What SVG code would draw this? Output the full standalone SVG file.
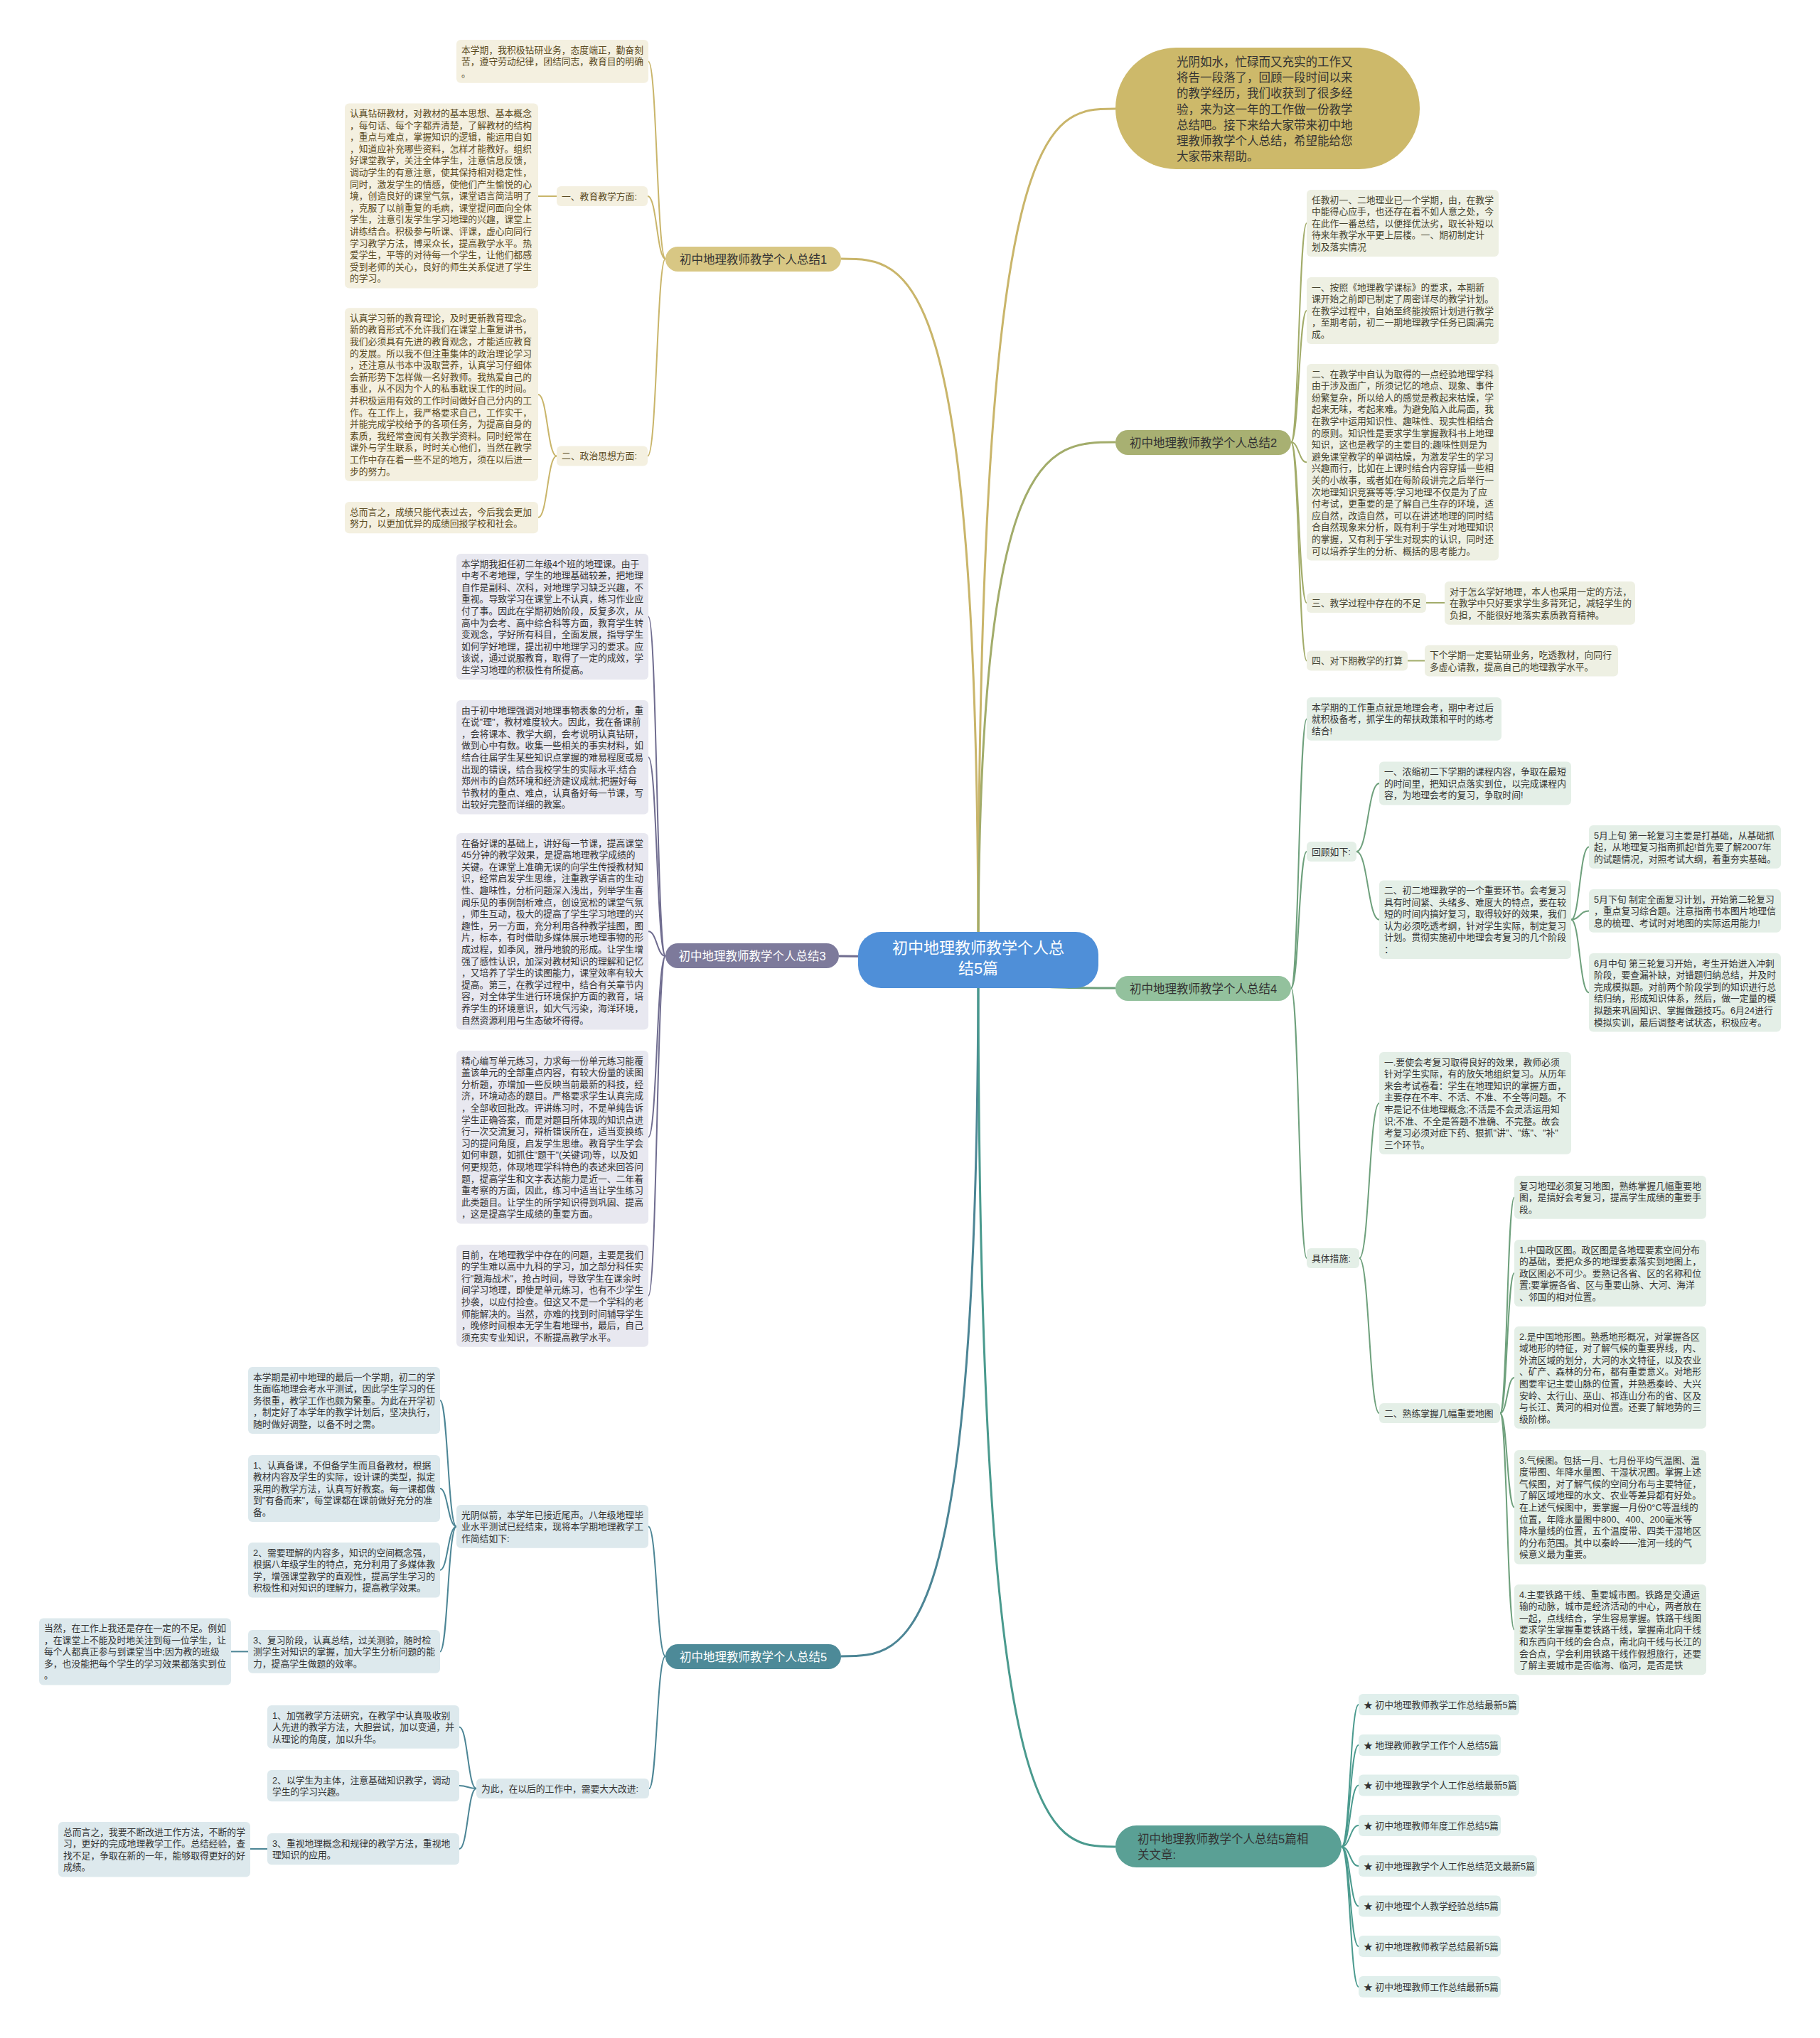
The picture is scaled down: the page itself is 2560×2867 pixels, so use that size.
<svg xmlns="http://www.w3.org/2000/svg" width="2560" height="2867" viewBox="0 0 2560 2867">
<style>
text{font-family:"Liberation Sans","Noto Sans CJK SC",sans-serif;}
.t{font-size:12.8px;fill:#333;}
.t1{fill:#5a4a22;}
.t2{fill:#45432f;}
.lbl{font-size:16.5px;fill:#333;text-anchor:middle;}
.lblw{font-size:16.5px;fill:#fff;text-anchor:middle;}
.c1{fill:#f4f0e0;}
.c2{fill:#eef0e3;}
.c3{fill:#e8e8f0;}
.c4{fill:#e4efe7;}
.c5{fill:#dde9ed;}
.c6{fill:#e0efec;}
.ln{fill:none;stroke-width:2;}
.mn{fill:none;stroke-width:3;}
.g1{stroke:#c9b56a;}
.g2{stroke:#a2ac6a;}
.g3{stroke:#6f6c8f;}
.g4{stroke:#6ea07c;}
.g5{stroke:#4c8595;}
.g6{stroke:#4a9a8e;}
</style>
<rect width="2560" height="2867" fill="#fff"/>
<g id="connectors">
<path class="mn g1" d="M1376 1350 C1376 153 1472 153 1569 153"/>
<path class="mn g1" d="M1376 1350 C1376 364 1280 364 1183 364"/>
<path class="mn g2" d="M1376 1350 C1376 622 1472 622 1569 622"/>
<path class="mn g3" d="M1376 1350 C1280 1350 1280 1345 1180 1345"/>
<path class="mn g4" d="M1376 1350 C1376 1390 1472 1390 1569 1390"/>
<path class="mn g5" d="M1376 1350 C1376 2330 1280 2330 1183 2330"/>
<path class="mn g6" d="M1376 1350 C1376 2598 1472 2598 1569 2598"/>
<path class="ln g1" d="M936 364 C924 364 924 86.4 912 86.4"/>
<path class="ln g1" d="M936 364 C924 364 924 276 911 276"/>
<path class="ln g1" d="M936 364 C924 364 924 641.5 911 641.5"/>
<path class="ln g1" d="M783 276 L757 276"/>
<path class="ln g1" d="M783 641.5 C770 641.5 770 555 757 555"/>
<path class="ln g1" d="M783 641.5 C770 641.5 770 728.1 757 728.1"/>
<path class="ln g2" d="M1816 622 C1827 622 1827 314 1838 314"/>
<path class="ln g2" d="M1816 622 C1827 622 1827 437 1838 437"/>
<path class="ln g2" d="M1816 622 C1827 622 1827 650.3 1838 650.3"/>
<path class="ln g2" d="M1816 622 C1827 622 1827 848 1838 848"/>
<path class="ln g2" d="M1816 622 C1827 622 1827 929.5 1838 929.5"/>
<path class="ln g2" d="M2006 848 L2032 848"/>
<path class="ln g2" d="M1980 929.5 L2004 929.5"/>
<path class="ln g3" d="M936 1345 C924 1345 924 867.5 912 867.5"/>
<path class="ln g3" d="M936 1345 C924 1345 924 1065.2 912 1065.2"/>
<path class="ln g3" d="M936 1345 C924 1345 924 1310.3 912 1310.3"/>
<path class="ln g3" d="M936 1345 C924 1345 924 1599.7 912 1599.7"/>
<path class="ln g3" d="M936 1345 C924 1345 924 1822.9 912 1822.9"/>
<path class="ln g4" d="M1816 1390 C1827 1390 1827 1011.4 1838 1011.4"/>
<path class="ln g4" d="M1816 1390 C1827 1390 1827 1198 1838 1198"/>
<path class="ln g4" d="M1816 1390 C1827 1390 1827 1770 1838 1770"/>
<path class="ln g4" d="M1908 1198 C1924 1198 1924 1102 1940 1102"/>
<path class="ln g4" d="M1908 1198 C1924 1198 1924 1293.8 1940 1293.8"/>
<path class="ln g4" d="M2210 1293.8 C2222 1293.8 2222 1191.4 2235 1191.4"/>
<path class="ln g4" d="M2210 1293.8 C2222 1293.8 2222 1281.4 2235 1281.4"/>
<path class="ln g4" d="M2210 1293.8 C2222 1293.8 2222 1396.3 2235 1396.3"/>
<path class="ln g4" d="M1912 1770 C1926 1770 1926 1551.9 1940 1551.9"/>
<path class="ln g4" d="M1912 1770 C1926 1770 1926 1988 1940 1988"/>
<path class="ln g4" d="M2110 1988 C2120 1988 2120 1684.4 2130 1684.4"/>
<path class="ln g4" d="M2110 1988 C2120 1988 2120 1791 2130 1791"/>
<path class="ln g4" d="M2110 1988 C2120 1988 2120 1937.9 2130 1937.9"/>
<path class="ln g4" d="M2110 1988 C2120 1988 2120 2120.2 2130 2120.2"/>
<path class="ln g4" d="M2110 1988 C2120 1988 2120 2292.6 2130 2292.6"/>
<path class="ln g5" d="M936 2330 C924 2330 924 2147.4 912 2147.4"/>
<path class="ln g5" d="M936 2330 C924 2330 924 2516 913 2516"/>
<path class="ln g5" d="M642 2147.4 C630 2147.4 630 1970 619 1970"/>
<path class="ln g5" d="M642 2147.4 C630 2147.4 630 2094 619 2094"/>
<path class="ln g5" d="M642 2147.4 C630 2147.4 630 2208.7 619 2208.7"/>
<path class="ln g5" d="M642 2147.4 C630 2147.4 630 2323.4 619 2323.4"/>
<path class="ln g5" d="M349 2323.4 L325 2323.4"/>
<path class="ln g5" d="M670 2516 C658 2516 658 2429.4 646 2429.4"/>
<path class="ln g5" d="M670 2516 C658 2516 658 2512 646 2512"/>
<path class="ln g5" d="M670 2516 C658 2516 658 2601 646 2601"/>
<path class="ln g5" d="M376 2601 L352 2601"/>
<path class="ln g6" d="M1887 2598 C1899 2598 1899 2398 1911 2398"/>
<path class="ln g6" d="M1887 2598 C1899 2598 1899 2455 1911 2455"/>
<path class="ln g6" d="M1887 2598 C1899 2598 1899 2511.5 1911 2511.5"/>
<path class="ln g6" d="M1887 2598 C1899 2598 1899 2568 1911 2568"/>
<path class="ln g6" d="M1887 2598 C1899 2598 1899 2625 1911 2625"/>
<path class="ln g6" d="M1887 2598 C1899 2598 1899 2681.5 1911 2681.5"/>
<path class="ln g6" d="M1887 2598 C1899 2598 1899 2738 1911 2738"/>
<path class="ln g6" d="M1887 2598 C1899 2598 1899 2795 1911 2795"/>
</g>

<g id="center">
<rect x="1207" y="1311" width="338" height="79" rx="32" fill="#4f8fd8"/>
<text x="1376" y="1340.5" font-size="22" fill="#fff" text-anchor="middle"><tspan x="1376">初中地理教师教学个人总</tspan><tspan x="1376" dy="29">结5篇</tspan></text>
</g>

<g id="intro">
<rect x="1569" y="67" width="428" height="171" rx="85.5" fill="#cdb96a"/>
<text x="1655" y="93" font-size="16.5" fill="#333"><tspan x="1655">光阴如水，忙碌而又充实的工作又</tspan><tspan x="1655" dy="22.2">将告一段落了，回顾一段时间以来</tspan><tspan x="1655" dy="22.2">的教学经历，我们收获到了很多经</tspan><tspan x="1655" dy="22.2">验，来为这一年的工作做一份教学</tspan><tspan x="1655" dy="22.2">总结吧。接下来给大家带来初中地</tspan><tspan x="1655" dy="22.2">理教师教学个人总结，希望能给您</tspan><tspan x="1655" dy="22.2">大家带来帮助。</tspan></text>
</g>

<g id="b1">
<rect x="936" y="347" width="247" height="35" rx="17.5" fill="#d8c784"/>
<text class="lbl" x="1059.5" y="370.5">初中地理教师教学个人总结1</text>
</g>
<g id="n1a"><rect class="c1" x="642" y="56" width="270" height="60.8" rx="6"/>
<text class="t t1" x="649" y="74.5"><tspan x="649">本学期，我积极钻研业务，态度端正，勤奋刻</tspan><tspan x="649" dy="16.6">苦，遵守劳动纪律，团结同志，教育目的明确</tspan><tspan x="649" dy="16.6">。</tspan></text></g>
<g id="n1b"><rect class="c1" x="783" y="262" width="128" height="28" rx="6"/>
<text class="t t1" x="790" y="280.5">一、教育教学方面:</text></g>
<g id="n1c"><rect class="c1" x="485" y="145.5" width="272" height="260" rx="6"/>
<text class="t t1" x="492" y="164"><tspan x="492">认真钻研教材，对教材的基本思想、基本概念</tspan><tspan x="492" dy="16.6">，每句话、每个字都弄清楚，了解教材的结构</tspan><tspan x="492" dy="16.6">，重点与难点，掌握知识的逻辑，能运用自如</tspan><tspan x="492" dy="16.6">，知道应补充哪些资料，怎样才能教好。组织</tspan><tspan x="492" dy="16.6">好课堂教学，关注全体学生，注意信息反馈，</tspan><tspan x="492" dy="16.6">调动学生的有意注意，使其保持相对稳定性，</tspan><tspan x="492" dy="16.6">同时，激发学生的情感，使他们产生愉悦的心</tspan><tspan x="492" dy="16.6">境，创造良好的课堂气氛，课堂语言简洁明了</tspan><tspan x="492" dy="16.6">，克服了以前重复的毛病，课堂提问面向全体</tspan><tspan x="492" dy="16.6">学生，注意引发学生学习地理的兴趣，课堂上</tspan><tspan x="492" dy="16.6">讲练结合。积极参与听课、评课，虚心向同行</tspan><tspan x="492" dy="16.6">学习教学方法，博采众长，提高教学水平。热</tspan><tspan x="492" dy="16.6">爱学生，平等的对待每一个学生，让他们都感</tspan><tspan x="492" dy="16.6">受到老师的关心，良好的师生关系促进了学生</tspan><tspan x="492" dy="16.6">的学习。</tspan></text></g>
<g id="n1d"><rect class="c1" x="783" y="627.5" width="128" height="28" rx="6"/>
<text class="t t1" x="790" y="646">二、政治思想方面:</text></g>
<g id="n1e"><rect class="c1" x="485" y="433.3" width="272" height="243.4" rx="6"/>
<text class="t t1" x="492" y="451.8"><tspan x="492">认真学习新的教育理论，及时更新教育理念。</tspan><tspan x="492" dy="16.6">新的教育形式不允许我们在课堂上重复讲书，</tspan><tspan x="492" dy="16.6">我们必须具有先进的教育观念，才能适应教育</tspan><tspan x="492" dy="16.6">的发展。所以我不但注重集体的政治理论学习</tspan><tspan x="492" dy="16.6">，还注意从书本中汲取营养，认真学习仔细体</tspan><tspan x="492" dy="16.6">会新形势下怎样做一名好教师。我热爱自己的</tspan><tspan x="492" dy="16.6">事业，从不因为个人的私事耽误工作的时间。</tspan><tspan x="492" dy="16.6">并积极运用有效的工作时间做好自己分内的工</tspan><tspan x="492" dy="16.6">作。在工作上，我严格要求自己，工作实干，</tspan><tspan x="492" dy="16.6">并能完成学校给予的各项任务，为提高自身的</tspan><tspan x="492" dy="16.6">素质，我经常查阅有关教学资料。同时经常在</tspan><tspan x="492" dy="16.6">课外与学生联系，时时关心他们，当然在教学</tspan><tspan x="492" dy="16.6">工作中存在着一些不足的地方，须在以后进一</tspan><tspan x="492" dy="16.6">步的努力。</tspan></text></g>
<g id="n1f"><rect class="c1" x="485" y="706" width="272" height="44.2" rx="6"/>
<text class="t t1" x="492" y="724.5"><tspan x="492">总而言之，成绩只能代表过去，今后我会更加</tspan><tspan x="492" dy="16.6">努力，以更加优异的成绩回报学校和社会。</tspan></text></g>

<g id="b2">
<rect x="1569" y="605" width="247" height="35" rx="17.5" fill="#a8b072"/>
<text class="lbl" x="1692.5" y="628.5">初中地理教师教学个人总结2</text>
</g>
<g id="n2a"><rect class="c2" x="1838" y="267" width="270" height="94" rx="6"/>
<text class="t t2" x="1845" y="285.5"><tspan x="1845">任教初一、二地理业已一个学期，由，在教学</tspan><tspan x="1845" dy="16.6">中能得心应手，也还存在着不如人意之处，今</tspan><tspan x="1845" dy="16.6">在此作一番总结，以便择优汰劣，取长补短以</tspan><tspan x="1845" dy="16.6">待来年教学水平更上层楼。一、期初制定计</tspan><tspan x="1845" dy="16.6">划及落实情况</tspan></text></g>
<g id="n2b"><rect class="c2" x="1838" y="390" width="270" height="94" rx="6"/>
<text class="t t2" x="1845" y="408.5"><tspan x="1845">一、按照《地理教学课标》的要求，本期新</tspan><tspan x="1845" dy="16.6">课开始之前即已制定了周密详尽的教学计划。</tspan><tspan x="1845" dy="16.6">在教学过程中，自始至终能按照计划进行教学</tspan><tspan x="1845" dy="16.6">，至期考前，初二一期地理教学任务已圆满完</tspan><tspan x="1845" dy="16.6">成。</tspan></text></g>
<g id="n2c"><rect class="c2" x="1838" y="512" width="270" height="276.6" rx="6"/>
<text class="t t2" x="1845" y="530.5"><tspan x="1845">二、在教学中自认为取得的一点经验地理学科</tspan><tspan x="1845" dy="16.6">由于涉及面广，所须记忆的地点、现象、事件</tspan><tspan x="1845" dy="16.6">纷繁复杂，所以给人的感觉是教起来枯燥，学</tspan><tspan x="1845" dy="16.6">起来无味，考起来难。为避免陷入此局面，我</tspan><tspan x="1845" dy="16.6">在教学中运用知识性、趣味性、现实性相结合</tspan><tspan x="1845" dy="16.6">的原则。知识性是要求学生掌握教科书上地理</tspan><tspan x="1845" dy="16.6">知识，这也是教学的主要目的;趣味性则是为</tspan><tspan x="1845" dy="16.6">避免课堂教学的单调枯燥，为激发学生的学习</tspan><tspan x="1845" dy="16.6">兴趣而行，比如在上课时结合内容穿插一些相</tspan><tspan x="1845" dy="16.6">关的小故事，或者如在每阶段讲完之后举行一</tspan><tspan x="1845" dy="16.6">次地理知识竞赛等等;学习地理不仅是为了应</tspan><tspan x="1845" dy="16.6">付考试，更重要的是了解自己生存的环境，适</tspan><tspan x="1845" dy="16.6">应自然，改造自然，可以在讲述地理的同时结</tspan><tspan x="1845" dy="16.6">合自然现象来分析，既有利于学生对地理知识</tspan><tspan x="1845" dy="16.6">的掌握，又有利于学生对现实的认识，同时还</tspan><tspan x="1845" dy="16.6">可以培养学生的分析、概括的思考能力。</tspan></text></g>
<g id="n2d"><rect class="c2" x="1838" y="834" width="168" height="28" rx="6"/>
<text class="t t2" x="1845" y="852.5">三、教学过程中存在的不足</text></g>
<g id="n2e"><rect class="c2" x="2032" y="818" width="268" height="60.8" rx="6"/>
<text class="t t2" x="2039" y="836.5"><tspan x="2039">对于怎么学好地理，本人也采用一定的方法，</tspan><tspan x="2039" dy="16.6">在教学中只好要求学生多背死记，减轻学生的</tspan><tspan x="2039" dy="16.6">负担，不能很好地落实素质教育精神。</tspan></text></g>
<g id="n2f"><rect class="c2" x="1838" y="915.5" width="142" height="28" rx="6"/>
<text class="t t2" x="1845" y="934">四、对下期教学的打算</text></g>
<g id="n2g"><rect class="c2" x="2004" y="907.4" width="272" height="44.2" rx="6"/>
<text class="t t2" x="2011" y="926"><tspan x="2011">下个学期一定要钻研业务，吃透教材，向同行</tspan><tspan x="2011" dy="16.6">多虚心请教，提高自己的地理教学水平。</tspan></text></g>

<g id="b3">
<rect x="936" y="1327" width="244" height="35" rx="17.5" fill="#7d7a9b"/>
<text class="lblw" x="1058" y="1350.5">初中地理教师教学个人总结3</text>
</g>
<g id="n3a"><rect class="c3" x="642" y="779" width="270" height="177" rx="6"/>
<text class="t" x="649" y="797.5"><tspan x="649">本学期我担任初二年级4个班的地理课。由于</tspan><tspan x="649" dy="16.6">中考不考地理，学生的地理基础较差，把地理</tspan><tspan x="649" dy="16.6">自作是副科、次科，对地理学习缺乏兴趣，不</tspan><tspan x="649" dy="16.6">重视。导致学习在课堂上不认真，练习作业应</tspan><tspan x="649" dy="16.6">付了事。因此在学期初始阶段，反复多次，从</tspan><tspan x="649" dy="16.6">高中为会考、高中综合科等方面，教育学生转</tspan><tspan x="649" dy="16.6">变观念，学好所有科目，全面发展，指导学生</tspan><tspan x="649" dy="16.6">如何学好地理，提出初中地理学习的要求。应</tspan><tspan x="649" dy="16.6">该说，通过说服教育，取得了一定的成效，学</tspan><tspan x="649" dy="16.6">生学习地理的积极性有所提高。</tspan></text></g>
<g id="n3b"><rect class="c3" x="642" y="985" width="270" height="160.4" rx="6"/>
<text class="t" x="649" y="1003.5"><tspan x="649">由于初中地理强调对地理事物表象的分析，重</tspan><tspan x="649" dy="16.6">在说"理"，教材难度较大。因此，我在备课前</tspan><tspan x="649" dy="16.6">，会将课本、教学大纲，会考说明认真钻研，</tspan><tspan x="649" dy="16.6">做到心中有数。收集一些相关的事实材料，如</tspan><tspan x="649" dy="16.6">结合往届学生某些知识点掌握的难易程度或易</tspan><tspan x="649" dy="16.6">出现的错误，结合我校学生的实际水平;结合</tspan><tspan x="649" dy="16.6">郑州市的自然环境和经济建议成就;把握好每</tspan><tspan x="649" dy="16.6">节教材的重点、难点，认真备好每一节课，写</tspan><tspan x="649" dy="16.6">出较好完整而详细的教案。</tspan></text></g>
<g id="n3c"><rect class="c3" x="642" y="1172" width="270" height="276.6" rx="6"/>
<text class="t" x="649" y="1190.5"><tspan x="649">在备好课的基础上，讲好每一节课，提高课堂</tspan><tspan x="649" dy="16.6">45分钟的教学效果，是提高地理教学成绩的</tspan><tspan x="649" dy="16.6">关键。在课堂上准确无误的向学生传授教材知</tspan><tspan x="649" dy="16.6">识，经常启发学生思维，注重教学语言的生动</tspan><tspan x="649" dy="16.6">性、趣味性，分析问题深入浅出，列举学生喜</tspan><tspan x="649" dy="16.6">闻乐见的事例剖析难点，创设宽松的课堂气氛</tspan><tspan x="649" dy="16.6">，师生互动，极大的提高了学生学习地理的兴</tspan><tspan x="649" dy="16.6">趣性，另一方面，充分利用各种教学挂图，图</tspan><tspan x="649" dy="16.6">片，标本，有时借助多媒体展示地理事物的形</tspan><tspan x="649" dy="16.6">成过程，如季风，雅丹地貌的形成。让学生增</tspan><tspan x="649" dy="16.6">强了感性认识，加深对教材知识的理解和记忆</tspan><tspan x="649" dy="16.6">，又培养了学生的读图能力，课堂效率有较大</tspan><tspan x="649" dy="16.6">提高。第三，在教学过程中，结合有关章节内</tspan><tspan x="649" dy="16.6">容，对全体学生进行环境保护方面的教育，培</tspan><tspan x="649" dy="16.6">养学生的环境意识，如大气污染，海洋环境，</tspan><tspan x="649" dy="16.6">自然资源利用与生态破坏得得。</tspan></text></g>
<g id="n3d"><rect class="c3" x="642" y="1478" width="270" height="243.4" rx="6"/>
<text class="t" x="649" y="1496.5"><tspan x="649">精心编写单元练习，力求每一份单元练习能覆</tspan><tspan x="649" dy="16.6">盖该单元的全部重点内容，有较大份量的读图</tspan><tspan x="649" dy="16.6">分析题，亦增加一些反映当前最新的科技，经</tspan><tspan x="649" dy="16.6">济，环境动态的题目。严格要求学生认真完成</tspan><tspan x="649" dy="16.6">，全部收回批改。评讲练习时，不是单纯告诉</tspan><tspan x="649" dy="16.6">学生正确答案，而是对题目所体现的知识点进</tspan><tspan x="649" dy="16.6">行一次交流复习，辩析错误所在，适当变换练</tspan><tspan x="649" dy="16.6">习的提问角度，启发学生思维。教育学生学会</tspan><tspan x="649" dy="16.6">如何审题，如抓住"题干"(关键词)等，以及如</tspan><tspan x="649" dy="16.6">何更规范，体现地理学科特色的表述来回答问</tspan><tspan x="649" dy="16.6">题，提高学生和文字表达能力是近一、二年着</tspan><tspan x="649" dy="16.6">重考察的方面，因此，练习中适当让学生练习</tspan><tspan x="649" dy="16.6">此类题目。让学生的所学知识得到巩固、提高</tspan><tspan x="649" dy="16.6">，这是提高学生成绩的重要方面。</tspan></text></g>
<g id="n3e"><rect class="c3" x="642" y="1751" width="270" height="143.8" rx="6"/>
<text class="t" x="649" y="1769.5"><tspan x="649">目前，在地理教学中存在的问题，主要是我们</tspan><tspan x="649" dy="16.6">的学生难以高中九科的学习，加之部分科任实</tspan><tspan x="649" dy="16.6">行"题海战术"，抢占时间，导致学生在课余时</tspan><tspan x="649" dy="16.6">间学习地理，即使是单元练习，也有不少学生</tspan><tspan x="649" dy="16.6">抄袭，以应付捡查。但这又不是一个学科的老</tspan><tspan x="649" dy="16.6">师能解决的。当然，亦难的找到时间辅导学生</tspan><tspan x="649" dy="16.6">，晚修时间根本无学生看地理书，最后，自己</tspan><tspan x="649" dy="16.6">须充实专业知识，不断提高教学水平。</tspan></text></g>

<g id="b4">
<rect x="1569" y="1373" width="247" height="35" rx="17.5" fill="#93c19d"/>
<text class="lbl" x="1692.5" y="1396.5">初中地理教师教学个人总结4</text>
</g>
<g id="n4a"><rect class="c4" x="1838" y="981" width="274" height="60.8" rx="6"/>
<text class="t" x="1845" y="999.5"><tspan x="1845">本学期的工作重点就是地理会考，期中考过后</tspan><tspan x="1845" dy="16.6">就积极备考，抓学生的帮扶政策和平时的练考</tspan><tspan x="1845" dy="16.6">结合!</tspan></text></g>
<g id="n4b"><rect class="c4" x="1838" y="1184" width="70" height="28" rx="6"/>
<text class="t" x="1845" y="1202.5">回顾如下:</text></g>
<g id="n4c"><rect class="c4" x="1940" y="1071.6" width="270" height="60.8" rx="6"/>
<text class="t" x="1947" y="1090"><tspan x="1947">一、浓缩初二下学期的课程内容，争取在最短</tspan><tspan x="1947" dy="16.6">的时间里，把知识点落实到位，以完成课程内</tspan><tspan x="1947" dy="16.6">容，为地理会考的复习，争取时间!</tspan></text></g>
<g id="n4d"><rect class="c4" x="1940" y="1238.5" width="270" height="110.6" rx="6"/>
<text class="t" x="1947" y="1257"><tspan x="1947">二、初二地理教学的一个重要环节。会考复习</tspan><tspan x="1947" dy="16.6">具有时间紧、头绪多、难度大的特点，要在较</tspan><tspan x="1947" dy="16.6">短的时间内搞好复习，取得较好的效果，我们</tspan><tspan x="1947" dy="16.6">认为必须吃透考纲，针对学生实际，制定复习</tspan><tspan x="1947" dy="16.6">计划。贯彻实施初中地理会考复习的几个阶段</tspan><tspan x="1947" dy="16.6">：</tspan></text></g>
<g id="n4e"><rect class="c4" x="2235" y="1161" width="270" height="60.8" rx="6"/>
<text class="t" x="2242" y="1179.5"><tspan x="2242">5月上旬 第一轮复习主要是打基础，从基础抓</tspan><tspan x="2242" dy="16.6">起，从地理复习指南抓起!首先要了解2007年</tspan><tspan x="2242" dy="16.6">的试题情况，对照考试大纲，着重夯实基础。</tspan></text></g>
<g id="n4f"><rect class="c4" x="2235" y="1251" width="270" height="60.8" rx="6"/>
<text class="t" x="2242" y="1269.5"><tspan x="2242">5月下旬 制定全面复习计划，开始第二轮复习</tspan><tspan x="2242" dy="16.6">，重点复习综合题。注意指南书本图片地理信</tspan><tspan x="2242" dy="16.6">息的梳理、考试时对地图的实际运用能力!</tspan></text></g>
<g id="n4g"><rect class="c4" x="2235" y="1341" width="270" height="110.6" rx="6"/>
<text class="t" x="2242" y="1359.5"><tspan x="2242">6月中旬 第三轮复习开始，考生开始进入冲刺</tspan><tspan x="2242" dy="16.6">阶段，要查漏补缺，对错题归纳总结，并及时</tspan><tspan x="2242" dy="16.6">完成模拟题。对前两个阶段学到的知识进行总</tspan><tspan x="2242" dy="16.6">结归纳，形成知识体系，然后，做一定量的模</tspan><tspan x="2242" dy="16.6">拟题来巩固知识、掌握做题技巧。6月24进行</tspan><tspan x="2242" dy="16.6">模拟实训，最后调整考试状态，积极应考。</tspan></text></g>
<g id="n4h"><rect class="c4" x="1838" y="1756" width="74" height="28" rx="6"/>
<text class="t" x="1845" y="1774.5">具体措施:</text></g>
<g id="n4i"><rect class="c4" x="1940" y="1480" width="270" height="143.8" rx="6"/>
<text class="t" x="1947" y="1498.5"><tspan x="1947">一.要使会考复习取得良好的效果，教师必须</tspan><tspan x="1947" dy="16.6">针对学生实际，有的放矢地组织复习。从历年</tspan><tspan x="1947" dy="16.6">来会考试卷看：学生在地理知识的掌握方面，</tspan><tspan x="1947" dy="16.6">主要存在不牢、不活、不准、不全等问题。不</tspan><tspan x="1947" dy="16.6">牢是记不住地理概念;不活是不会灵活运用知</tspan><tspan x="1947" dy="16.6">识;不准、不全是答题不准确、不完整。故会</tspan><tspan x="1947" dy="16.6">考复习必须对症下药、狠抓"讲"、"练"、"补"</tspan><tspan x="1947" dy="16.6">三个环节。</tspan></text></g>
<g id="n4j"><rect class="c4" x="1940" y="1974" width="170" height="28" rx="6"/>
<text class="t" x="1947" y="1992.5">二、熟练掌握几幅重要地图</text></g>
<g id="n4k"><rect class="c4" x="2130" y="1654" width="270" height="60.8" rx="6"/>
<text class="t" x="2137" y="1672.5"><tspan x="2137">复习地理必须复习地图，熟练掌握几幅重要地</tspan><tspan x="2137" dy="16.6">图，是搞好会考复习，提高学生成绩的重要手</tspan><tspan x="2137" dy="16.6">段。</tspan></text></g>
<g id="n4l"><rect class="c4" x="2130" y="1744" width="270" height="94" rx="6"/>
<text class="t" x="2137" y="1762.5"><tspan x="2137">1.中国政区图。政区图是各地理要素空间分布</tspan><tspan x="2137" dy="16.6">的基础，要把众多的地理要素落实到地图上，</tspan><tspan x="2137" dy="16.6">政区图必不可少。要熟记各省、区的名称和位</tspan><tspan x="2137" dy="16.6">置;要掌握各省、区与重要山脉、大河、海洋</tspan><tspan x="2137" dy="16.6">、邻国的相对位置。</tspan></text></g>
<g id="n4m"><rect class="c4" x="2130" y="1866" width="270" height="143.8" rx="6"/>
<text class="t" x="2137" y="1884.5"><tspan x="2137">2.是中国地形图。熟悉地形概况，对掌握各区</tspan><tspan x="2137" dy="16.6">域地形的特征，对了解气候的重要界线，内、</tspan><tspan x="2137" dy="16.6">外流区域的划分，大河的水文特征，以及农业</tspan><tspan x="2137" dy="16.6">、矿产、森林的分布，都有重要意义。对地形</tspan><tspan x="2137" dy="16.6">图要牢记主要山脉的位置，并熟悉秦岭、大兴</tspan><tspan x="2137" dy="16.6">安岭、太行山、巫山、祁连山分布的省、区及</tspan><tspan x="2137" dy="16.6">与长江、黄河的相对位置。还要了解地势的三</tspan><tspan x="2137" dy="16.6">级阶梯。</tspan></text></g>
<g id="n4n"><rect class="c4" x="2130" y="2040" width="270" height="160.4" rx="6"/>
<text class="t" x="2137" y="2058.5"><tspan x="2137">3.气候图。包括一月、七月份平均气温图、温</tspan><tspan x="2137" dy="16.6">度带图、年降水量图、干湿状况图。掌握上述</tspan><tspan x="2137" dy="16.6">气候图，对了解气候的空间分布与主要特征，</tspan><tspan x="2137" dy="16.6">了解区域地理的水文、农业等差异都有好处。</tspan><tspan x="2137" dy="16.6">在上述气候图中，要掌握一月份0°C等温线的</tspan><tspan x="2137" dy="16.6">位置，年降水量图中800、400、200毫米等</tspan><tspan x="2137" dy="16.6">降水量线的位置，五个温度带、四类干湿地区</tspan><tspan x="2137" dy="16.6">的分布范围。其中以秦岭——淮河一线的气</tspan><tspan x="2137" dy="16.6">候意义最为重要。</tspan></text></g>
<g id="n4o"><rect class="c4" x="2130" y="2229" width="270" height="127.2" rx="6"/>
<text class="t" x="2137" y="2247.5"><tspan x="2137">4.主要铁路干线、重要城市图。铁路是交通运</tspan><tspan x="2137" dy="16.6">输的动脉，城市是经济活动的中心，两者放在</tspan><tspan x="2137" dy="16.6">一起，点线结合，学生容易掌握。铁路干线图</tspan><tspan x="2137" dy="16.6">要求学生掌握重要铁路干线，掌握南北向干线</tspan><tspan x="2137" dy="16.6">和东西向干线的会合点，南北向干线与长江的</tspan><tspan x="2137" dy="16.6">会合点，学会利用铁路干线作假想旅行，还要</tspan><tspan x="2137" dy="16.6">了解主要城市是否临海、临河，是否是铁</tspan></text></g>

<g id="b5">
<rect x="936" y="2313" width="247" height="35" rx="17.5" fill="#4d8a98"/>
<text class="lblw" x="1059.5" y="2336.5">初中地理教师教学个人总结5</text>
</g>
<g id="n5a"><rect class="c5" x="642" y="2117" width="270" height="60.8" rx="6"/>
<text class="t" x="649" y="2135.5"><tspan x="649">光阴似箭，本学年已接近尾声。八年级地理毕</tspan><tspan x="649" dy="16.6">业水平测试已经结束，现将本学期地理教学工</tspan><tspan x="649" dy="16.6">作简结如下:</tspan></text></g>
<g id="n5b"><rect class="c5" x="349" y="1923" width="270" height="94" rx="6"/>
<text class="t" x="356" y="1941.5"><tspan x="356">本学期是初中地理的最后一个学期，初二的学</tspan><tspan x="356" dy="16.6">生面临地理会考水平测试，因此学生学习的任</tspan><tspan x="356" dy="16.6">务很重，教学工作也颇为繁重。为此在开学初</tspan><tspan x="356" dy="16.6">，制定好了本学年的教学计划后，坚决执行，</tspan><tspan x="356" dy="16.6">随时做好调整，以备不时之需。</tspan></text></g>
<g id="n5c"><rect class="c5" x="349" y="2047" width="270" height="94" rx="6"/>
<text class="t" x="356" y="2065.5"><tspan x="356">1、认真备课，不但备学生而且备教材，根据</tspan><tspan x="356" dy="16.6">教材内容及学生的实际，设计课的类型，拟定</tspan><tspan x="356" dy="16.6">采用的教学方法，认真写好教案。每一课都做</tspan><tspan x="356" dy="16.6">到"有备而来"，每堂课都在课前做好充分的准</tspan><tspan x="356" dy="16.6">备。</tspan></text></g>
<g id="n5d"><rect class="c5" x="349" y="2170" width="270" height="77.4" rx="6"/>
<text class="t" x="356" y="2188.5"><tspan x="356">2、需要理解的内容多，知识的空间概念强，</tspan><tspan x="356" dy="16.6">根据八年级学生的特点，充分利用了多媒体教</tspan><tspan x="356" dy="16.6">学，增强课堂教学的直观性，提高学生学习的</tspan><tspan x="356" dy="16.6">积极性和对知识的理解力，提高教学效果。</tspan></text></g>
<g id="n5e"><rect class="c5" x="349" y="2293" width="270" height="60.8" rx="6"/>
<text class="t" x="356" y="2311.5"><tspan x="356">3、复习阶段，认真总结，过关测验，随时检</tspan><tspan x="356" dy="16.6">测学生对知识的掌握，加大学生分析问题的能</tspan><tspan x="356" dy="16.6">力，提高学生做题的效率。</tspan></text></g>
<g id="n5f"><rect class="c5" x="55" y="2276.5" width="270" height="94" rx="6"/>
<text class="t" x="62" y="2295"><tspan x="62">当然，在工作上我还是存在一定的不足。例如</tspan><tspan x="62" dy="16.6">，在课堂上不能及时地关注到每一位学生，让</tspan><tspan x="62" dy="16.6">每个人都真正参与到课堂当中;因为教的班级</tspan><tspan x="62" dy="16.6">多，也没能把每个学生的学习效果都落实到位</tspan><tspan x="62" dy="16.6">。</tspan></text></g>
<g id="n5g"><rect class="c5" x="670" y="2502" width="243" height="28" rx="6"/>
<text class="t" x="677" y="2520.5">为此，在以后的工作中，需要大大改进:</text></g>
<g id="n5h"><rect class="c5" x="376" y="2399" width="270" height="60.8" rx="6"/>
<text class="t" x="383" y="2417.5"><tspan x="383">1、加强教学方法研究，在教学中认真吸收别</tspan><tspan x="383" dy="16.6">人先进的教学方法，大胆尝试，加以变通，并</tspan><tspan x="383" dy="16.6">从理论的角度，加以升华。</tspan></text></g>
<g id="n5i"><rect class="c5" x="376" y="2490" width="270" height="44.2" rx="6"/>
<text class="t" x="383" y="2508.5"><tspan x="383">2、以学生为主体，注意基础知识教学，调动</tspan><tspan x="383" dy="16.6">学生的学习兴趣。</tspan></text></g>
<g id="n5j"><rect class="c5" x="376" y="2579" width="270" height="44.2" rx="6"/>
<text class="t" x="383" y="2597.5"><tspan x="383">3、重视地理概念和规律的教学方法，重视地</tspan><tspan x="383" dy="16.6">理知识的应用。</tspan></text></g>
<g id="n5k"><rect class="c5" x="82" y="2563" width="270" height="77.4" rx="6"/>
<text class="t" x="89" y="2581.5"><tspan x="89">总而言之，我要不断改进工作方法，不断的学</tspan><tspan x="89" dy="16.6">习，更好的完成地理教学工作。总结经验，查</tspan><tspan x="89" dy="16.6">找不足，争取在新的一年，能够取得更好的好</tspan><tspan x="89" dy="16.6">成绩。</tspan></text></g>

<g id="related">
<rect x="1569" y="2568" width="318" height="59" rx="29.5" fill="#5aa095"/>
<text x="1600" y="2593" font-size="16.5" fill="#333"><tspan x="1600">初中地理教师教学个人总结5篇相</tspan><tspan x="1600" dy="22">关文章:</tspan></text>
</g>
<g id="r1"><rect class="c6" x="1911" y="2383" width="226" height="30" rx="6"/><text class="t" x="1918" y="2402.5">★ 初中地理教师教学工作总结最新5篇</text></g>
<g id="r2"><rect class="c6" x="1911" y="2440" width="200" height="30" rx="6"/><text class="t" x="1918" y="2459.5">★ 地理教师教学工作个人总结5篇</text></g>
<g id="r3"><rect class="c6" x="1911" y="2496.5" width="226" height="30" rx="6"/><text class="t" x="1918" y="2516">★ 初中地理教学个人工作总结最新5篇</text></g>
<g id="r4"><rect class="c6" x="1911" y="2553" width="200" height="30" rx="6"/><text class="t" x="1918" y="2572.5">★ 初中地理教师年度工作总结5篇</text></g>
<g id="r5"><rect class="c6" x="1911" y="2610" width="251" height="30" rx="6"/><text class="t" x="1918" y="2629.5">★ 初中地理教学个人工作总结范文最新5篇</text></g>
<g id="r6"><rect class="c6" x="1911" y="2666.5" width="200" height="30" rx="6"/><text class="t" x="1918" y="2686">★ 初中地理个人教学经验总结5篇</text></g>
<g id="r7"><rect class="c6" x="1911" y="2723" width="200" height="30" rx="6"/><text class="t" x="1918" y="2742.5">★ 初中地理教师教学总结最新5篇</text></g>
<g id="r8"><rect class="c6" x="1911" y="2780" width="200" height="30" rx="6"/><text class="t" x="1918" y="2799.5">★ 初中地理教师工作总结最新5篇</text></g>
</svg>
